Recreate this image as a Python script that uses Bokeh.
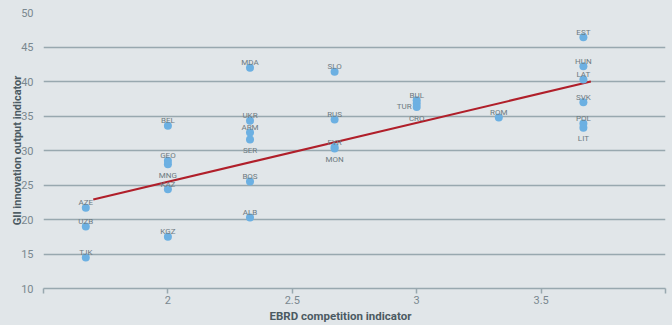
from bokeh.plotting import figure
from bokeh.models import Range1d, FixedTicker, Title, ColumnDataSource
from bokeh.core.properties import value
from bokeh.embed import file_html
from bokeh.resources import INLINE

# ---- data ----
countries = ["TJK", "UZB", "AZE", "KGZ", "KAZ", "MNG", "GEO", "BEL",
             "ALB", "BOS", "SER", "ARM", "UKR", "MDA",
             "MON", "FYR", "RUS", "SLO",
             "CRO", "TUR", "BUL", "ROM",
             "LIT", "POL", "SVK", "LAT", "HUN", "EST"]
competition = [1.67, 1.67, 1.67, 2.0, 2.0, 2.0, 2.0, 2.0,
               2.33, 2.33, 2.33, 2.33, 2.33, 2.33,
               2.67, 2.67, 2.67, 2.67,
               3.0, 3.0, 3.0, 3.33,
               3.67, 3.67, 3.67, 3.67, 3.67, 3.67]
innovation = [14.5, 19.0, 21.7, 17.5, 24.4, 28.0, 28.5, 33.6,
              20.3, 25.5, 31.6, 32.6, 34.3, 42.0,
              30.3, 30.5, 34.5, 41.4,
              36.3, 36.8, 37.3, 34.8,
              33.3, 33.9, 37.0, 40.3, 42.2, 46.4]
trend_x = [1.70, 3.70]
trend_y = [22.9, 40.0]
x_ticks = [1.5, 2, 2.5, 3, 3.5, 4]
x_tick_labels = ["", "2", "2.5", "3", "3.5", ""]
y_ticks = [10, 15, 20, 25, 30, 35, 40, 45, 50]
x_title = "EBRD competition indicator"
y_title = "GII innovation output indicator"

labels_below = {"LIT", "CRO", "MON", "SER", "MNG"}
labels_left = {"TUR"}

BG = "#e1e6e9"
GRID = "#98a8af"
TICK_TXT = "#7a888f"
TITLE_TXT = "#4b5a62"
FONT = "Roboto"

p = figure(frame_width=622, frame_height=276,
           x_range=Range1d(1.5, 4.0), y_range=Range1d(10, 50),
           output_backend="svg", toolbar_location=None,
           background_fill_color=BG, border_fill_color=BG,
           min_border_left=43, min_border_right=7,
           min_border_top=12, min_border_bottom=10)
p.outline_line_color = None

# axes
p.xaxis.ticker = FixedTicker(ticks=x_ticks)
p.xaxis.major_label_overrides = {t: l for t, l in zip(x_ticks, x_tick_labels)}
p.xaxis.axis_line_color = GRID
p.xaxis.axis_line_width = 1.5
p.xaxis.major_tick_line_color = GRID
p.xaxis.major_tick_line_width = 1.5
p.xaxis.major_tick_in = 0
p.xaxis.major_tick_out = 5
p.xaxis.minor_tick_line_color = None
p.xaxis.major_label_standoff = 2
p.xaxis.major_label_text_font = FONT
p.xaxis.major_label_text_font_size = "11px"
p.xaxis.major_label_text_color = TICK_TXT

p.yaxis.ticker = FixedTicker(ticks=y_ticks)
p.yaxis.axis_line_color = None
p.yaxis.major_tick_line_color = None
p.yaxis.minor_tick_line_color = None
p.yaxis.major_label_standoff = 4
p.yaxis.major_label_text_font = FONT
p.yaxis.major_label_text_font_size = "11px"
p.yaxis.major_label_text_color = TICK_TXT
p.yaxis.axis_label = y_title
p.yaxis.axis_label_text_font = FONT
p.yaxis.axis_label_text_font_style = "bold"
p.yaxis.axis_label_text_font_size = "11px"
p.yaxis.axis_label_text_color = TITLE_TXT
p.yaxis.axis_label_standoff = -6

p.xgrid.grid_line_color = None
p.ygrid.ticker = FixedTicker(ticks=y_ticks)
p.ygrid.grid_line_color = GRID
p.ygrid.grid_line_width = 1.5

p.add_layout(Title(text=x_title, align="left", offset=226,
                   text_font=FONT, text_font_style="bold",
                   text_font_size="11.5px", text_color=TITLE_TXT, standoff=0), "below")

# trend line
p.line(trend_x, trend_y, line_color="#b01f2a", line_width=2)

# points
src = ColumnDataSource(dict(x=competition, y=innovation, c=countries))
p.scatter("x", "y", source=src, size=8, fill_color="#6cb0e2", line_color=None)

# labels
above = dict(x=[], y=[], t=[])
below = dict(x=[], y=[], t=[])
left = dict(x=[], y=[], t=[])
for c, xv, yv in zip(countries, competition, innovation):
    d = left if c in labels_left else below if c in labels_below else above
    d["x"].append(xv); d["y"].append(yv); d["t"].append(c)

common = dict(text_font=value(FONT), text_font_size="8px", text_color="#6d7a81",
              text_baseline="alphabetic")
p.text(above["x"], above["y"], text=above["t"], text_align="center", y_offset=-5, **common)
p.text(below["x"], below["y"], text=below["t"], text_align="center", y_offset=11, **common)
p.text(left["x"], left["y"], text=left["t"], text_align="right", x_offset=-5, y_offset=3, **common)

html = file_html(p, INLINE).replace(
    "<head>", "<head><style>html,body{background:%s;}</style>" % BG, 1)
open("out.html", "w").write(html)
